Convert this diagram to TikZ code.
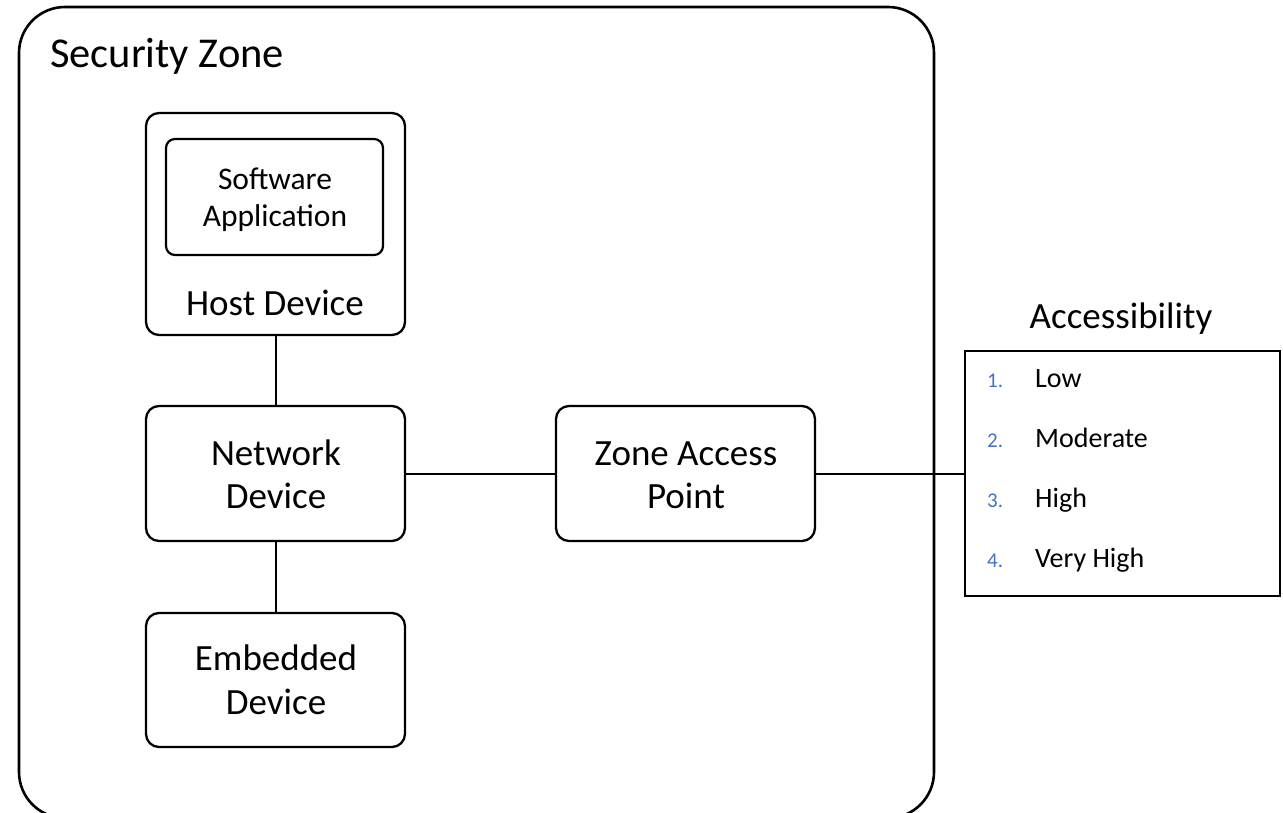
\documentclass[tikz,border=0pt]{standalone}
\usepackage{fontspec}
\setmainfont{Carlito}
\definecolor{listblue}{HTML}{4472C4}
\begin{document}
\begin{tikzpicture}[x=1pt,y=-1pt,
  zone/.style={draw=black,line width=2.6pt,rounded corners=46pt},
  devbox/.style={draw=black,line width=2.3pt,rounded corners=13pt,inner sep=0pt},
  plainbox/.style={draw=black,line width=2pt,inner sep=0pt},
  link/.style={draw=black,line width=2pt},
  bigtext/.style={font=\fontsize{37}{43}\selectfont,inner sep=0pt,anchor=base},
  midtext/.style={font=\fontsize{31.5}{37}\selectfont,inner sep=0pt,anchor=base},
  numtext/.style={font=\fontsize{21}{24}\selectfont,text=listblue,inner sep=0pt,anchor=base west},
  itemtext/.style={font=\fontsize{28}{32}\selectfont,inner sep=0pt,anchor=base west}]
\useasboundingbox (0,0) rectangle (1283,813);
\clip (0,0) rectangle (1283,813);
\fill[white] (0,0) rectangle (1283,813);

% security zone frame, open past the lower edge
\draw[zone] (19,7) rectangle (934,818);
\node[inner sep=0pt,anchor=base west,font=\fontsize{42.5}{49}\selectfont] (zonelbl) at (50,68) {Security Zone};

% host device with its software application
\node[devbox,minimum width=259pt,minimum height=222pt] (host) at (275.5,224) {};
\node[devbox,rounded corners=9pt,line width=2.2pt,minimum width=217pt,minimum height=116pt] (app) at (274.5,197) {};
\node[midtext] (appl1) at (275,190) {Software};
\node[midtext] (appl2) at (275,227) {Application};
\node[bigtext] (hostlbl) at (275,315) {Host Device};

% network, embedded and access point devices
\node[devbox,minimum width=259pt,minimum height=135pt] (net) at (275.5,473.5) {};
\node[bigtext] (netl1) at (276,465) {Network};
\node[bigtext] (netl2) at (276,508) {Device};
\node[devbox,minimum width=259pt,minimum height=134pt] (emb) at (275.5,680) {};
\node[bigtext] (embl1) at (276,670) {Embedded};
\node[bigtext] (embl2) at (276,714) {Device};
\node[devbox,minimum width=259pt,minimum height=135pt] (zap) at (685.5,473.5) {};
\node[bigtext] (zapl1) at (686,465) {Zone Access};
\node[bigtext] (zapl2) at (686,508) {Point};

% accessibility scale
\node[plainbox,minimum width=315pt,minimum height=245pt] (acc) at (1122.5,473.5) {};
\node[bigtext] (acclbl) at (1121,328) {Accessibility};
\node[numtext] (n1) at (987,387) {1.};
\node[itemtext] (i1) at (1035,387) {Low};
\node[numtext] (n2) at (987,447) {2.};
\node[itemtext] (i2) at (1035,447) {Moderate};
\node[numtext] (n3) at (987,507) {3.};
\node[itemtext] (i3) at (1035,507) {High};
\node[numtext] (n4) at (987,567) {4.};
\node[itemtext] (i4) at (1035,567) {Very High};

% connections
\draw[link] (host.south) -- (net.north);
\draw[link] (net.south) -- (emb.north);
\draw[link] (net.east) -- (zap.west);
\draw[link] (zap.east) -- (acc.west);
\end{tikzpicture}
\end{document}
